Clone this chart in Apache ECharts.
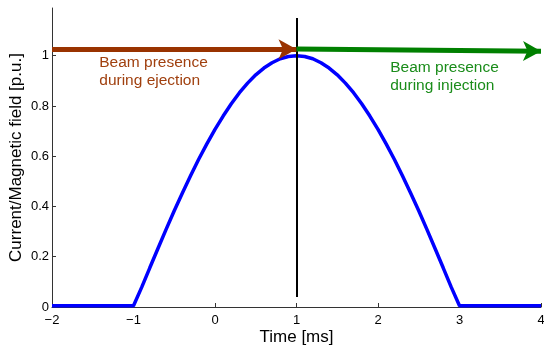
<!DOCTYPE html>
<html>
<head>
<meta charset="utf-8">
<script src="https://cdn.jsdelivr.net/npm/echarts@6/dist/echarts.min.js"></script>
<style>
  html, body { margin: 0; padding: 0; background: #fff; }
  #chart { width: 544px; height: 346px; }
</style>
</head>
<body>
<div id="chart"></div>
<script>
// values
const timeMs = [-2, -1, -0.9, -0.8, -0.7, -0.6, -0.5, -0.4, -0.3, -0.2, -0.1,
  0, 0.1, 0.2, 0.3, 0.4, 0.5, 0.6, 0.7, 0.8, 0.9,
  1, 1.1, 1.2, 1.3, 1.4, 1.5, 1.6, 1.7, 1.8, 1.9,
  2, 2.1, 2.2, 2.3, 2.4, 2.5, 2.6, 2.7, 2.8, 2.9, 3, 4]
const field = [0.005, 0.005, 0.078, 0.156, 0.233, 0.309, 0.383, 0.454, 0.522, 0.588, 0.649,
  0.707, 0.760, 0.809, 0.853, 0.891, 0.924, 0.951, 0.972, 0.988, 0.997,
  1.0, 0.997, 0.988, 0.972, 0.951, 0.924, 0.891, 0.853, 0.809, 0.760,
  0.707, 0.649, 0.588, 0.522, 0.454, 0.383, 0.309, 0.233, 0.156, 0.078, 0.005, 0.005]

const markerX = 1
const markerY = [0.04, 1.15]
const ejectArrow = [[-2, 1.026], [1, 1.026]]
const injectArrow = [[1, 1.027], [4, 1.018]]
const ejectText = 'Beam presence\nduring ejection'
const injectText = 'Beam presence\nduring injection'
const ejectTextAt = [-1.42, 1.01]
const injectTextAt = [2.15, 0.99]
const yTicks = [0, 0.2, 0.4, 0.6, 0.8, 1]

const FONT = "'Liberation Sans', Arial, sans-serif"
const brown = '#993300'
const green = '#008000'

const chart = echarts.init(document.getElementById('chart'), null, { renderer: 'canvas' })

const fmtNum = v => String(v).replace('-', '\u2212')

chart.setOption({
  animation: false,
  grid: { left: 52, right: 3, top: 8, bottom: 39, containLabel: false, outerBoundsMode: 'none' },
  xAxis: {
    type: 'value',
    min: -2, max: 4, interval: 1,
    name: 'Time [ms]',
    nameLocation: 'middle',
    nameGap: 22,
    nameMoveOverlap: false,
    nameTextStyle: { color: '#000', fontSize: 17, fontFamily: FONT },
    axisLine: { onZero: false, lineStyle: { color: '#333', width: 1 } },
    axisTick: { inside: true, length: 4, lineStyle: { color: '#333' } },
    axisLabel: { color: '#000', fontSize: 13, fontFamily: FONT, margin: 7, formatter: fmtNum },
    splitLine: { show: false }
  },
  yAxis: {
    type: 'value',
    min: 0, max: 1.19,
    name: 'Current/Magnetic field [p.u.]',
    nameLocation: 'middle',
    nameRotate: 90,
    nameGap: 27,
    nameMoveOverlap: false,
    nameTextStyle: { color: '#000', fontSize: 17, fontFamily: FONT },
    axisLine: { onZero: false, lineStyle: { color: '#333', width: 1 } },
    axisTick: { inside: true, length: 4, lineStyle: { color: '#333' }, customValues: yTicks },
    axisLabel: { color: '#000', fontSize: 13, fontFamily: FONT, margin: 3, customValues: yTicks },
    splitLine: { show: false }
  },
  series: [
    {
      name: 'field',
      type: 'line',
      data: timeMs.map((t, i) => [t, field[i]]),
      symbol: 'none',
      lineStyle: { color: '#0000ff', width: 3.5 },
      z: 3,
      markLine: {
        silent: true,
        animation: false,
        symbol: ['none', 'none'],
        label: { show: false },
        lineStyle: { color: '#000', width: 2, type: 'solid' },
        data: [[{ coord: [markerX, markerY[0]] }, { coord: [markerX, markerY[1]] }]]
      }
    },
    {
      name: 'eject',
      type: 'line',
      data: [],
      z: 4,
      markLine: {
        silent: true,
        animation: false,
        symbol: ['none', 'arrow'],
        symbolSize: [15, 18],
        label: { show: false },
        lineStyle: { color: brown, width: 5, type: 'solid' },
        data: [[{ coord: ejectArrow[0] }, { coord: ejectArrow[1] }]]
      }
    },
    {
      name: 'inject',
      type: 'line',
      data: [],
      z: 4,
      markLine: {
        silent: true,
        animation: false,
        symbol: ['none', 'arrow'],
        symbolSize: [15, 18],
        label: { show: false },
        lineStyle: { color: green, width: 5, type: 'solid' },
        data: [[{ coord: injectArrow[0] }, { coord: injectArrow[1] }]]
      }
    }
  ]
})

// text notes placed at data coordinates
const p1 = chart.convertToPixel({ gridIndex: 0 }, ejectTextAt)
const p2 = chart.convertToPixel({ gridIndex: 0 }, injectTextAt)
chart.setOption({
  graphic: [
    {
      type: 'text', x: p1[0], y: p1[1],
      style: { text: ejectText, fill: '#a0400f', font: `15.5px ${FONT}`, lineHeight: 18 }
    },
    {
      type: 'text', x: p2[0], y: p2[1],
      style: { text: injectText, fill: '#1a8c1a', font: `15.5px ${FONT}`, lineHeight: 18 }
    }
  ]
})
</script>
</body>
</html>
